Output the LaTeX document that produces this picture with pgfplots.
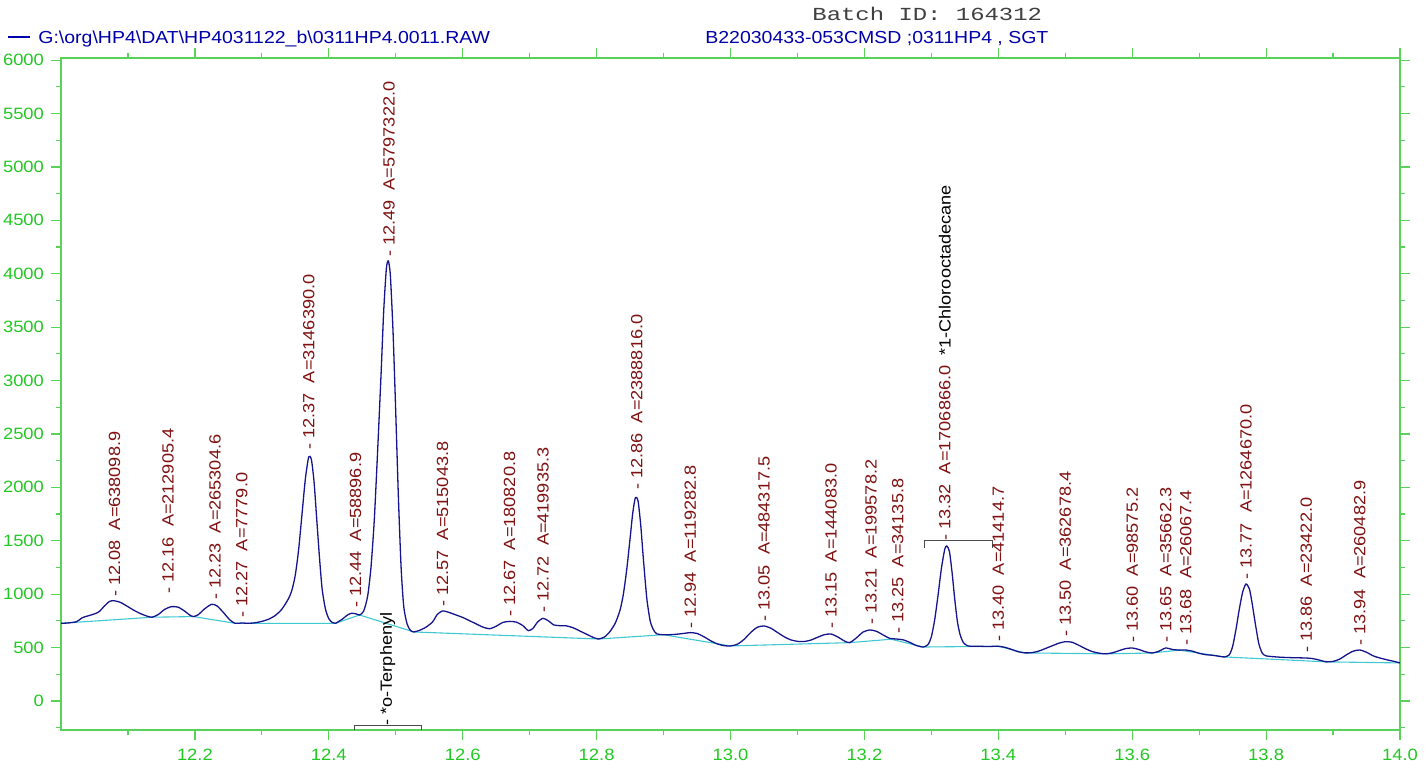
\documentclass[border=0pt]{standalone}
\usepackage{fontspec}
\setmainfont{Liberation Sans}[FakeStretch=1.12]
\newfontfamily\batchfont{Liberation Mono}[FakeStretch=1.3]
\usepackage{pgfplots}
\usepackage{pgfplotstable}
\pgfplotsset{compat=1.18}

\definecolor{trace}{RGB}{20,20,140}
\definecolor{basel}{RGB}{64,200,210}
\definecolor{peakred}{RGB}{128,16,16}
\definecolor{ticklab}{RGB}{34,200,34}
\definecolor{frame}{RGB}{90,210,90}
\definecolor{hdblue}{RGB}{0,0,170}

% peak labels: retention time, label start height, label text
\pgfplotstableread[col sep=comma]{
x,ly,lab
12.08,973,12.08~~A=638098.9
12.16,1002,12.16~~A=212905.4
12.23,945,12.23~~A=265304.6
12.27,777,12.27~~A=7779.0
12.37,2350,12.37~~A=3146390.0
12.44,870,12.44~~A=58896.9
12.49,4156,12.49~~A=5797322.0
12.57,880,12.57~~A=515043.8
12.67,786,12.67~~A=180820.8
12.72,824,12.72~~A=419935.3
12.86,1975,12.86~~A=2388816.0
12.94,674,12.94~~A=119282.8
13.05,740,13.05~~A=484317.5
13.15,674,13.15~~A=144083.0
13.21,711,13.21~~A=199578.2
13.25,627,13.25~~A=34135.8
13.32,1498,13.32~~A=1706866.0
13.40,552,13.40~~A=41414.7
13.50,599,13.50~~A=362678.4
13.60,543,13.60~~A=98575.2
13.65,543,13.65~~A=35662.3
13.68,515,13.68~~A=26067.4
13.77,1133,13.77~~A=1264670.0
13.86,449,13.86~~A=23422.0
13.94,515,13.94~~A=260482.9
}\peaks

\begin{document}
\begin{tikzpicture}
\begin{axis}[
  scale only axis,
  width=669.5pt, height=336pt,
  xmin=12, xmax=14, ymin=-272, ymax=6020,
  xtick={12.2,12.4,12.6,12.8,13.0,13.2,13.4,13.6,13.8,14.0},
  minor xtick={12.1,12.3,12.5,12.7,12.9,13.1,13.3,13.5,13.7,13.9},
  ytick={0,500,1000,1500,2000,2500,3000,3500,4000,4500,5000,5500,6000},
  minor ytick={-250,250,750,1250,1750,2250,2750,3250,3750,4250,4750,5250,5750},
  tick align=outside,
  major tick length=5pt, minor tick length=2.6pt,
  tick style={color=frame, line width=0.6pt},
  axis line style={draw=frame, line width=0.8pt},
  xticklabel style={/pgf/number format/fixed, /pgf/number format/fixed zerofill,
    /pgf/number format/precision=1, yshift=-1pt},
  yticklabel style={/pgf/number format/set thousands separator={}},
  /pgf/number format/assume math mode=true,
  ticklabel style={font=\fontsize{8.2}{9}\selectfont, color=ticklab},
  clip=false,
]
\addplot[basel, line width=0.55pt] coordinates {
(12.000,727)(12.136,784)(12.198,790)(12.260,727)(12.410,727)(12.446,805)
(12.527,646)(12.803,580)(12.900,620)(13.000,515)(13.178,546)(13.240,578)
(13.288,505)(13.400,512)(13.440,450)(13.560,441)(13.630,449)(13.670,476)
(13.738,412)(13.890,366)(14.000,356)
};
\addplot[trace, line width=0.65pt, smooth, tension=0.4] coordinates {
(12.000,727)(12.010,730)(12.023,742)(12.032,780)(12.040,796)(12.050,815)
(12.057,836)(12.065,890)(12.072,930)(12.078,939)(12.088,925)(12.098,890)
(12.108,852)(12.118,820)(12.128,795)(12.136,784)(12.145,808)(12.155,858)
(12.165,883)(12.175,878)(12.185,840)(12.192,805)(12.198,790)(12.205,808)
(12.215,865)(12.225,905)(12.233,890)(12.243,825)(12.252,760)(12.260,727)
(12.270,730)(12.280,727)(12.290,732)(12.300,745)(12.310,765)(12.320,800)
(12.330,860)(12.340,960)(12.345,1040)(12.350,1180)(12.355,1420)(12.360,1750)
(12.365,2080)(12.370,2285)(12.374,2260)(12.378,2050)(12.382,1700)(12.386,1350)
(12.390,1050)(12.395,860)(12.400,770)(12.405,735)(12.410,727)(12.420,765)
(12.428,805)(12.434,821)(12.441,815)(12.446,805)(12.452,840)(12.458,980)
(12.463,1250)(12.468,1700)(12.473,2350)(12.478,3050)(12.482,3650)(12.486,4050)
(12.489,4120)(12.492,3980)(12.496,3450)(12.500,2700)(12.504,1900)(12.508,1250)
(12.512,880)(12.517,720)(12.522,660)(12.527,646)(12.535,660)(12.545,690)
(12.555,740)(12.562,810)(12.570,843)(12.580,828)(12.590,805)(12.600,782)
(12.610,752)(12.620,722)(12.630,692)(12.640,676)(12.650,700)(12.660,735)
(12.670,745)(12.680,738)(12.690,705)(12.698,658)(12.705,680)(12.712,740)
(12.720,774)(12.728,750)(12.736,712)(12.745,705)(12.755,703)(12.765,685)
(12.775,655)(12.785,625)(12.795,595)(12.803,580)(12.812,600)(12.820,650)
(12.828,730)(12.835,850)(12.840,1000)(12.845,1230)(12.850,1520)(12.854,1760)
(12.858,1905)(12.862,1870)(12.866,1640)(12.870,1320)(12.875,960)(12.880,750)
(12.885,665)(12.890,628)(12.900,620)(12.915,622)(12.930,632)(12.940,640)
(12.950,632)(12.960,602)(12.970,565)(12.980,535)(12.990,518)(13.000,515)
(13.010,530)(13.020,575)(13.030,640)(13.040,690)(13.050,702)(13.060,682)
(13.070,642)(13.080,602)(13.090,572)(13.100,558)(13.110,556)(13.120,570)
(13.130,596)(13.140,620)(13.150,627)(13.160,600)(13.170,562)(13.178,546)
(13.188,590)(13.198,645)(13.208,665)(13.218,652)(13.228,618)(13.238,586)
(13.248,580)(13.258,572)(13.268,548)(13.278,518)(13.288,505)(13.295,528)
(13.300,600)(13.305,760)(13.310,990)(13.315,1240)(13.320,1420)(13.323,1451)
(13.327,1400)(13.331,1200)(13.335,950)(13.339,740)(13.343,620)(13.348,545)
(13.355,515)(13.370,512)(13.385,510)(13.400,512)(13.410,502)(13.420,482)
(13.430,460)(13.440,450)(13.450,452)(13.460,466)(13.470,490)(13.480,515)
(13.490,540)(13.500,555)(13.510,550)(13.520,522)(13.530,490)(13.540,463)
(13.550,448)(13.560,441)(13.570,450)(13.580,470)(13.590,490)(13.600,496)
(13.610,482)(13.620,460)(13.630,449)(13.640,466)(13.650,496)(13.660,482)
(13.670,476)(13.680,477)(13.690,466)(13.700,446)(13.710,433)(13.720,428)
(13.730,418)(13.738,412)(13.745,432)(13.750,510)(13.755,670)(13.760,860)
(13.765,1020)(13.770,1095)(13.775,1050)(13.779,920)(13.784,720)(13.789,540)
(13.794,450)(13.800,422)(13.820,410)(13.840,405)(13.860,402)(13.870,396)
(13.880,382)(13.890,366)(13.900,370)(13.910,392)(13.920,432)(13.930,466)
(13.940,477)(13.950,456)(13.960,422)(13.970,402)(13.980,386)(13.990,372)
(14.000,356)
};
% peak labels
\addplot[draw=none, mark=none,
  point meta=explicit symbolic,
  nodes near coords={-~\pgfplotspointmeta},
  every node near coord/.append style={rotate=90, anchor=west, inner sep=0pt,
    color=peakred, font=\fontsize{8.1}{9}\selectfont},
] table[x=x, y=ly, meta=lab] {\peaks};
% compound names
\addplot[draw=none, mark=none,
  point meta=explicit symbolic,
  nodes near coords={\pgfplotspointmeta},
  every node near coord/.append style={rotate=90, anchor=west, inner sep=0pt,
    color=black, font=\fontsize{8.1}{9}\selectfont},
] coordinates {
(13.32,3230) [*1-Chlorooctadecane]
(12.488,-234) [-~*o-Terphenyl]
};
% retention windows
\addplot[black!70, line width=0.5pt] coordinates {(12.439,-272)(12.439,-234)(12.539,-234)(12.539,-272)};
\addplot[black!70, line width=0.5pt] coordinates {(13.290,1432)(13.290,1498)(13.392,1498)(13.392,1432)};
\end{axis}
% header
\draw[hdblue, line width=0.6pt] (-26.5pt,346.5pt) -- (-15.5pt,346.5pt);
\node[anchor=base west, inner sep=0pt, color=hdblue, font=\fontsize{8.7}{10}\selectfont]
  at (-11.5pt,343pt) {G:\textbackslash org\textbackslash HP4\textbackslash DAT\textbackslash HP4031122\_b\textbackslash 0311HP4.0011.RAW};
\node[anchor=base west, inner sep=0pt, color=hdblue, font=\fontsize{8.7}{10}\selectfont]
  at (322pt,343pt) {B22030433-053CMSD ;0311HP4 , SGT};
\node[anchor=base west, inner sep=0pt, color=black!75, font=\batchfont\fontsize{9.2}{10}\selectfont]
  at (375.5pt,354.5pt) {Batch ID: 164312};
\pgfresetboundingbox
\useasboundingbox (-30.5pt,-21pt) rectangle (682.5pt,365pt);
\end{tikzpicture}
\end{document}
